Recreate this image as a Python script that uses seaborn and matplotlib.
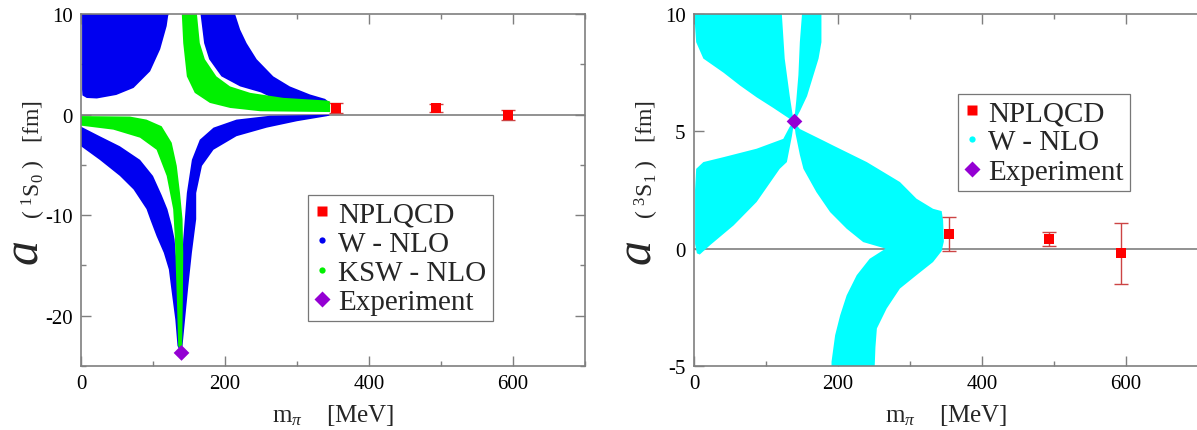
import matplotlib
matplotlib.use("Agg")
import matplotlib.pyplot as plt
from matplotlib.lines import Line2D
from matplotlib.ticker import MultipleLocator
import pandas as pd
import seaborn as sns

# ---- values ----
# NPLQCD lattice points
mpi_lat = [354, 493, 593]
a1s0_lat = [0.63, 0.65, -0.05]
a1s0_err = [0.50, 0.40, 0.50]
a3s1_lat = [0.63, 0.41, -0.20]
a3s1_err = [0.74, 0.28, 1.30]

# experiment (physical pion mass)
mpi_phys = [139.6]
a1s0_exp = [-23.7]
a3s1_exp = [5.42]

# band outlines: m_pi [MeV], a [fm]
# 1S0 W-NLO, upper left blob
w0_ul_m = [1.5, 122, 121, 119, 110, 96, 73, 49, 22, 8, 2, 1.5]
w0_ul_a = [10, 10, 9.8, 8.8, 6.5, 4.3, 2.65, 1.95, 1.6, 1.65, 1.9, 2.5]
# 1S0 W-NLO, upper right band
w0_ur_m = [166, 214, 221, 230, 244, 267, 290, 318, 339, 345, 345, 300, 270, 250, 221, 195, 178, 171]
w0_ur_a = [10, 10, 8.45, 7.1, 5.5, 3.8, 2.8, 2.0, 1.56, 1.2, 0.9, 1.1, 1.5, 2.2, 2.8, 3.8, 5.5, 7.1]
# 1S0 W-NLO, lower left band
w0_ll_m = [0, 26, 54, 82, 100, 112, 120, 126, 130, 133, 135, 138,
           134, 131, 125, 122, 115, 105, 96, 91, 73, 54, 26, 0]
w0_ll_a = [-1.2, -2.15, -3.15, -4.5, -6.1, -8.0, -9.4, -11.0, -12.4, -15.0, -19.0, -23.6,
           -23.0, -20.4, -17.1, -15.4, -13.75, -12.1, -10.4, -9.4, -7.45, -6.1, -4.5, -3.15]
# 1S0 W-NLO, lower right band
w0_lr_m = [138, 139.5, 141, 142, 147, 154, 165, 184, 216, 262, 345,
           345, 341, 300, 258, 216, 184, 168, 160, 160, 154, 149, 144.5, 141]
w0_lr_a = [-23.6, -18, -14, -12.4, -7.8, -4.5, -2.5, -1.3, -0.5, -0.12, -0.02,
           -0.1, -0.17, -0.66, -1.3, -2.15, -3.5, -5.1, -7.8, -10.4, -13.75, -17.1, -20.4, -23.0]
# 1S0 KSW-NLO, upper band
k0_up_m = [140, 161, 165, 172, 188, 207, 235, 281, 341, 346, 346, 249, 207, 179, 158, 147, 142]
k0_up_a = [10, 10, 7.1, 5.5, 3.8, 2.8, 2.16, 1.66, 1.4, 1.3, 0.25, 0.33, 0.66, 1.16, 2.16, 3.8, 7.1]
# 1S0 KSW-NLO, lower band
k0_lo_m = [0, 68, 91, 112, 126, 133, 137.5, 141, 142, 141.5, 140.5, 138,
           135, 133, 131, 130.5, 128, 119, 105, 82, 45, 0]
k0_lo_a = [-0.15, -0.2, -0.5, -1.16, -2.8, -5.1, -7.8, -10.4, -13.75, -18, -23, -23.4,
           -23, -18, -13.75, -12.4, -9.4, -6.1, -3.5, -2.3, -1.5, -1.1]

# 3S1 W-NLO, four arms of the cross
w1_a_m = [1.4, 122, 126, 133, 137, 139, 133, 110, 87, 64, 41, 13, 3, 1.4]
w1_a_a = [10, 10, 8.1, 6.5, 5.7, 5.4, 5.53, 6.0, 6.45, 6.95, 7.5, 8.1, 8.8, 9.5]
w1_b_m = [150, 177, 177, 173, 166, 157, 147, 139, 142, 145, 147]
w1_b_a = [10, 10, 8.8, 8.1, 7.4, 6.5, 5.85, 5.4, 6.3, 7.4, 8.8]
w1_c_m = [139, 133, 124, 87, 41, 13, 3, 1.5, 1.5, 4, 8, 22, 55, 87, 119, 129, 136]
w1_c_a = [5.4, 5.2, 4.68, 4.26, 3.9, 3.69, 3.4, 2.5, 0.2, -0.2, -0.25, 0.14, 0.99, 1.99, 3.4, 3.69, 4.8]
w1_d_m = [139, 147, 180, 193, 240, 286, 309, 332, 344, 346, 347, 344, 332, 309, 286, 267.6, 254,
          252, 251, 191, 191, 196, 203, 212, 226, 244, 266, 263, 235, 212, 189, 170, 152, 147, 141]
w1_d_a = [5.4, 5.1, 4.6, 4.4, 3.69, 2.84, 2.13, 1.7, 1.6, 1.2, 0.3, -0.1, -0.57, -1.13, -1.7, -2.55, -3.4,
          -4.2, -5, -5, -4.82, -3.69, -2.84, -1.99, -1.13, -0.43, 0, 0.03, 0.28, 0.85, 1.56, 2.41, 3.4, 4.0, 4.9]

BLUE = "#0000f0"
GREEN = "#00f000"
CYAN = "#00ffff"
RED = "#ff0000"
PURPLE = "#9400d3"
ERR = "#cc4444"
GRAY = "#7f7f7f"

sns.set_theme(style="ticks")
plt.rcParams["font.family"] = ["Liberation Serif", "DejaVu Serif"]
plt.rcParams["mathtext.fontset"] = "custom"
plt.rcParams["mathtext.rm"] = "Liberation Serif"
plt.rcParams["mathtext.it"] = "Liberation Serif:italic"
plt.rcParams["axes.unicode_minus"] = False

fig = plt.figure(figsize=(11.97, 4.31), dpi=100)
ax1 = fig.add_axes([81 / 1197, 64 / 431, 504 / 1197, 352 / 431])
ax2 = fig.add_axes([694 / 1197, 64 / 431, 504 / 1197, 352 / 431])

# bands
for m, a in [(w0_ul_m, w0_ul_a), (w0_ur_m, w0_ur_a), (w0_ll_m, w0_ll_a), (w0_lr_m, w0_lr_a)]:
    ax1.fill(m, a, color=BLUE, lw=0, zorder=1)
for m, a in [(k0_up_m, k0_up_a), (k0_lo_m, k0_lo_a)]:
    ax1.fill(m, a, color=GREEN, lw=0, zorder=2)
for m, a in [(w1_a_m, w1_a_a), (w1_b_m, w1_b_a), (w1_c_m, w1_c_a), (w1_d_m, w1_d_a)]:
    ax2.fill(m, a, color=CYAN, lw=0, zorder=1)

lat = pd.DataFrame({"m": mpi_lat, "a1": a1s0_lat, "e1": a1s0_err, "a3": a3s1_lat, "e3": a3s1_err})
exp = pd.DataFrame({"m": mpi_phys, "a1": a1s0_exp, "a3": a3s1_exp})

for ax, col, ecol, yl in [(ax1, "a1", "e1", (-25, 10)), (ax2, "a3", "e3", (-5, 10))]:
    ax.axhline(0, color=GRAY, lw=1.2, zorder=0.5)
    ax.errorbar(lat["m"], lat[col], yerr=lat[ecol], fmt="none", ecolor=ERR,
                elinewidth=1.0, capsize=4.7, capthick=1.0, zorder=3)
    sns.scatterplot(data=lat, x="m", y=col, ax=ax, marker="s", s=52, color=RED,
                    edgecolor="none", linewidth=0, zorder=4, legend=False)
    sns.scatterplot(data=exp, x="m", y=col, ax=ax, marker="D", s=64, color=PURPLE,
                    edgecolor="none", linewidth=0, zorder=5, legend=False)
    ax.set_xlim(0, 700)
    ax.set_ylim(*yl)
    ax.xaxis.set_major_locator(MultipleLocator(200))
    ax.xaxis.set_minor_locator(MultipleLocator(100))
    ax.tick_params(which="both", direction="in", top=True, right=True, colors=GRAY,
                   labelcolor="black", labelsize=15, pad=6)
    ax.tick_params(which="major", length=7, width=1)
    ax.tick_params(which="minor", length=3.5, width=1)
    for s in ax.spines.values():
        s.set_color(GRAY)
        s.set_linewidth(1.2)
    ax.set_xlabel(r"m$_\pi$    [MeV]", fontsize=18, labelpad=6)
    ax.set_ylabel("")

ax1.yaxis.set_major_locator(MultipleLocator(10))
ax1.yaxis.set_minor_locator(MultipleLocator(5))
ax2.yaxis.set_major_locator(MultipleLocator(5))
ax2.yaxis.set_minor_locator(MultipleLocator(100))
# right edge of the second panel runs off the picture
ax2.spines["right"].set_visible(False)
ax2.tick_params(which="both", right=False)

# y labels: big italic "a" plus the channel
for x0, chan in [(25, r"( $^1$S$_0$ )   [fm]"), (638, r"( $^3$S$_1$ )   [fm]")]:
    fig.text(x0 / 1197, 1 - 252 / 431, "a", fontsize=36, style="italic",
             rotation=90, ha="center", va="center")
    fig.text((x0 + 9) / 1197, 1 - 160 / 431, chan, fontsize=17,
             rotation=90, ha="center", va="center")

def handles(names):
    h = {
        "NPLQCD": Line2D([], [], ls="none", marker="s", ms=7, color=RED, mec="none"),
        "W - NLO": Line2D([], [], ls="none", marker="o", ms=4.5, color=BLUE, mec="none"),
        "W - NLO c": Line2D([], [], ls="none", marker="o", ms=4.5, color=CYAN, mec="none"),
        "KSW - NLO": Line2D([], [], ls="none", marker="o", ms=4.5, color=GREEN, mec="none"),
        "Experiment": Line2D([], [], ls="none", marker="D", ms=8, color=PURPLE, mec="none"),
    }
    return [h[n] for n in names]

leg_kw = dict(loc="upper left", borderaxespad=0, fontsize=21, frameon=True, fancybox=False,
              handlelength=0.6, handletextpad=0.25, labelspacing=0.1, borderpad=0.2)
l1 = ax1.legend(handles(["NPLQCD", "W - NLO", "KSW - NLO", "Experiment"]),
                ["NPLQCD", "W - NLO", "KSW - NLO", "Experiment"],
                bbox_to_anchor=(0.45, 0.486), **leg_kw)
l2 = ax2.legend(handles(["NPLQCD", "W - NLO c", "Experiment"]),
                ["NPLQCD", "W - NLO", "Experiment"],
                bbox_to_anchor=(0.523, 0.773), **leg_kw)
for lg in (l1, l2):
    lg.get_frame().set_edgecolor("#555555")
    lg.get_frame().set_linewidth(0.9)

fig.savefig("out.png", dpi=100)
